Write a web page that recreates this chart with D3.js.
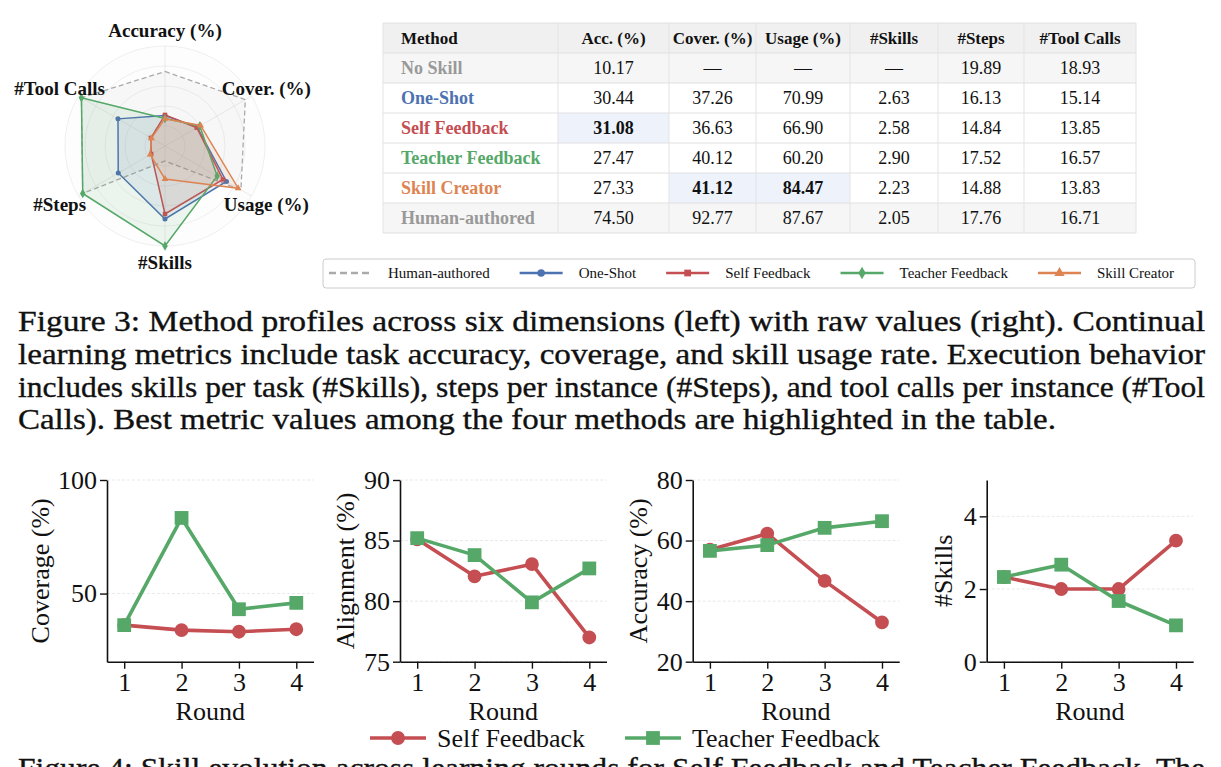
<!DOCTYPE html>
<html><head><meta charset="utf-8">
<script src="https://cdn.jsdelivr.net/npm/d3@7"></script>
<style>
html,body{margin:0;padding:0;background:#fff;overflow:hidden}
svg{display:block}
</style></head>
<body>
<svg id="fig" width="1221" height="767"></svg>
<script>
// ---------------- DATA ----------------
const tableHeaders = ["Method", "Acc. (%)", "Cover. (%)", "Usage (%)", "#Skills", "#Steps", "#Tool Calls"];
const tableMethods = ["No Skill", "One-Shot", "Self Feedback", "Teacher Feedback", "Skill Creator", "Human-authored"];
const accValues    = [10.17, 30.44, 31.08, 27.47, 27.33, 74.50];
const coverValues  = [null, 37.26, 36.63, 40.12, 41.12, 92.77];
const usageValues  = [null, 70.99, 66.90, 60.20, 84.47, 87.67];
const skillsValues = [null, 2.63, 2.58, 2.90, 2.23, 2.05];
const stepsValues  = [19.89, 16.13, 14.84, 17.52, 14.88, 17.76];
const toolValues   = [18.93, 15.14, 13.85, 16.57, 13.83, 16.71];
// best cells: [method, column index]
const bestCells = [["Self Feedback", 1], ["Skill Creator", 2], ["Skill Creator", 3]];

const radarAxes = ["Accuracy (%)", "Cover. (%)", "Usage (%)", "#Skills", "#Steps", "#Tool Calls"];
const radarMethods = ["Human-authored", "One-Shot", "Self Feedback", "Teacher Feedback", "Skill Creator"];

const rounds = [1, 2, 3, 4];
const coverageSelf    = [36.1, 33.9, 33.2, 34.3];
const coverageTeacher = [36.1, 83.3, 43.1, 45.9];
const alignSelf       = [85.1, 82.05, 83.05, 77.0];
const alignTeacher    = [85.2, 83.8, 79.9, 82.7];
const accSelf         = [57.0, 62.3, 46.7, 33.0];
const accTeacher      = [56.6, 58.5, 64.2, 66.4];
const skillsSelf      = [2.33, 2.0, 2.0, 3.33];
const skillsTeacher   = [2.33, 2.67, 1.67, 1.0];

const captionLines = [
  "Figure 3: Method profiles across six dimensions (left) with raw values (right). Continual",
  "learning metrics include task accuracy, coverage, and skill usage rate. Execution behavior",
  "includes skills per task (#Skills), steps per instance (#Steps), and tool calls per instance (#Tool",
  "Calls). Best metric values among the four methods are highlighted in the table."
];
const nextCaption = "Figure 4: Skill evolution across learning rounds for Self Feedback and Teacher Feedback. The";

// ---------------- STYLE ----------------
const colors = {
  "No Skill": "#999999", "One-Shot": "#4c72b0", "Self Feedback": "#c44e52",
  "Teacher Feedback": "#55a868", "Skill Creator": "#dd8452", "Human-authored": "#999999"
};
const symbols = {
  "One-Shot": d3.symbolCircle, "Self Feedback": d3.symbolSquare,
  "Teacher Feedback": d3.symbolDiamond, "Skill Creator": d3.symbolTriangle
};
const SERIF = "'Liberation Serif','Times New Roman',Times,serif";

const svg = d3.select("#fig");

// ---------------- RADAR ----------------
{
  const cx = 165, cy = 146, R = 100;
  const g = svg.append("g").attr("transform", `translate(${cx},${cy})`);
  const columns = [accValues, coverValues, usageValues, skillsValues, stepsValues, toolValues];
  const scales = [
    d3.scaleLinear().domain([0, 100]).range([0, R]),
    d3.scaleLinear().domain([0, 100]).range([0, R]),
    d3.scaleLinear().domain([0, 100]).range([0, R]),
    d3.scaleLinear().domain([1.9, 2.9]).range([0, R]).clamp(true),
    d3.scaleLinear().domain([14.3, 17.52]).range([0, 0.95 * R]).clamp(true),
    d3.scaleLinear().domain([13.3, 16.57]).range([0, 0.965 * R]).clamp(true)
  ];
  const ang = d3.scalePoint().domain(radarAxes).range([0, 2 * Math.PI * 5 / 6]);

  g.append("circle").attr("r", R).attr("fill", "#fdfdfd");
  g.selectAll("circle.ring").data([0.2, 0.4, 0.6, 0.8, 1.0]).join("circle")
    .attr("r", d => d * R).attr("fill", "none").attr("stroke", "#ebebeb").attr("stroke-width", 0.8);
  g.selectAll("line.spoke").data(radarAxes).join("line")
    .attr("x1", 0).attr("y1", 0)
    .attr("x2", d => R * Math.sin(ang(d))).attr("y2", d => -R * Math.cos(ang(d)))
    .attr("stroke", "#e6e6e6").attr("stroke-width", 0.8);

  const radial = d3.lineRadial()
    .angle(d => ang(d.axis)).radius(d => scales[d.i](d.v))
    .curve(d3.curveLinearClosed);

  radarMethods.forEach(m => {
    const row = tableMethods.indexOf(m);
    const pts = radarAxes.map((a, i) => ({axis: a, i, v: columns[i][row]}));
    const human = m === "Human-authored";
    g.append("path").attr("d", radial(pts))
      .attr("fill", human ? "#9a9a9a" : colors[m]).attr("fill-opacity", human ? 0.06 : 0.1)
      .attr("stroke", human ? "#aaaaaa" : colors[m]).attr("stroke-width", human ? 1.3 : 1.5)
      .attr("stroke-dasharray", human ? "5,3" : null);
    if (!human) {
      g.selectAll(null).data(pts).join("path")
        .attr("transform", d => {
          const r = scales[d.i](d.v), a = ang(d.axis);
          return `translate(${r * Math.sin(a)},${-r * Math.cos(a)})`;
        })
        .attr("d", d3.symbol().type(symbols[m]).size(m === "Teacher Feedback" ? 26 : 20))
        .attr("fill", colors[m]);
    }
  });

  g.selectAll("text.lab").data(radarAxes).join("text")
    .attr("x", d => 117 * Math.sin(ang(d)) - (Math.sin(ang(d)) < -0.1 ? 4 : 0))
    .attr("y", d => -116 * Math.cos(ang(d)))
    .attr("dy", "0.35em").attr("text-anchor", "middle")
    .attr("font-family", SERIF).attr("font-weight", "bold").attr("font-size", 19)
    .attr("fill", "#111").text(d => d);
}

// ---------------- TABLE ----------------
{
  const colEdges = [383, 558, 669, 756, 850, 938, 1024, 1136];
  const top = 23, rh = 30;
  const cols = [accValues, coverValues, usageValues, skillsValues, stepsValues, toolValues];
  const g = svg.append("g").attr("font-family", SERIF).attr("font-size", 18);
  g.append("rect").attr("x", colEdges[0]).attr("y", top).attr("width", colEdges[7] - colEdges[0]).attr("height", rh).attr("fill", "#f0f0f0");
  tableMethods.forEach((m, r) => {
    const y0 = top + rh * (r + 1);
    if (m === "No Skill" || m === "Human-authored")
      g.append("rect").attr("x", colEdges[0]).attr("y", y0).attr("width", colEdges[7] - colEdges[0]).attr("height", rh).attr("fill", "#f6f6f6");
  });
  bestCells.forEach(([m, c]) => {
    const r = tableMethods.indexOf(m);
    g.append("rect").attr("x", colEdges[c]).attr("y", top + rh * (r + 1))
      .attr("width", colEdges[c + 1] - colEdges[c]).attr("height", rh).attr("fill", "#edf2fb");
  });
  for (let r = 0; r <= tableMethods.length + 1; r++)
    g.append("line").attr("x1", colEdges[0]).attr("x2", colEdges[7]).attr("y1", top + rh * r).attr("y2", top + rh * r)
      .attr("stroke", "#e0e0e0").attr("stroke-width", 1);
  colEdges.forEach(x => g.append("line").attr("x1", x).attr("x2", x).attr("y1", top).attr("y2", top + rh * 7)
      .attr("stroke", "#e3e3e3").attr("stroke-width", 1));
  tableHeaders.forEach((h, c) => {
    g.append("text").attr("x", c === 0 ? colEdges[0] + 18 : (colEdges[c] + colEdges[c + 1]) / 2)
      .attr("y", top + rh / 2 + 6).attr("text-anchor", c === 0 ? "start" : "middle")
      .attr("font-weight", "bold").attr("font-size", 17).attr("fill", "#111").text(h);
  });
  tableMethods.forEach((m, r) => {
    const yb = top + rh * (r + 1) + rh / 2 + 6;
    g.append("text").attr("x", colEdges[0] + 18).attr("y", yb).attr("font-weight", "bold")
      .attr("fill", colors[m]).text(m);
    cols.forEach((arr, c) => {
      const v = arr[r];
      const best = bestCells.some(([bm, bc]) => bm === m && bc === c + 1);
      g.append("text").attr("x", (colEdges[c + 1] + colEdges[c + 2]) / 2).attr("y", yb)
        .attr("text-anchor", "middle").attr("fill", "#111")
        .attr("font-weight", best ? "bold" : "normal")
        .text(v == null ? "\u2014" : v.toFixed(2));
    });
  });
}

// ---------------- TOP LEGEND ----------------
{
  const g = svg.append("g").attr("font-family", SERIF).attr("font-size", 15);
  g.append("rect").attr("x", 323).attr("y", 259).attr("width", 872).attr("height", 29).attr("rx", 3)
    .attr("fill", "#fff").attr("stroke", "#cccccc");
  let x = 329;
  const yl = 273;
  radarMethods.forEach(m => {
    const human = m === "Human-authored";
    g.append("line").attr("x1", x).attr("x2", x + 43).attr("y1", yl).attr("y2", yl)
      .attr("stroke", human ? "#aaaaaa" : colors[m]).attr("stroke-width", 2.5)
      .attr("stroke-dasharray", human ? "7,4" : null);
    if (!human) g.append("path").attr("transform", `translate(${x + 21.5},${yl})`)
      .attr("d", d3.symbol().type(symbols[m]).size(45)).attr("fill", colors[m]);
    const t = g.append("text").attr("x", x + 59).attr("y", yl + 5).attr("fill", "#111").text(m);
    x = x + 59 + t.node().getComputedTextLength() + 30;
  });
}

// ---------------- CAPTION ----------------
{
  const g = svg.append("g").attr("font-family", SERIF).attr("font-size", 29)
    .attr("fill", "#111").attr("stroke", "#111").attr("stroke-width", 0.35);
  const baselines = [331, 364, 397, 429];
  const widths = [1187, 1187, 1187, 1038];
  captionLines.forEach((s, i) => {
    g.append("text").attr("x", 18).attr("y", baselines[i])
      .attr("textLength", widths[i]).attr("lengthAdjust", "spacingAndGlyphs").text(s);
  });
  g.append("text").attr("x", 18).attr("y", 778).attr("textLength", 1187)
    .attr("lengthAdjust", "spacingAndGlyphs").text(nextCaption);
}

// ---------------- ROUND PANELS ----------------
{
  const yTop = 480, yBot = 661.7, pw = 206.5;
  const panels = [
    {label: "Coverage (%)", domain: [20, 100], ticks: [50, 100], self: coverageSelf, teacher: coverageTeacher, left: 107, labelX: 49},
    {label: "Alignment (%)", domain: [75, 90], ticks: [75, 80, 85, 90], self: alignSelf, teacher: alignTeacher, left: 400, labelX: 354},
    {label: "Accuracy (%)", domain: [20, 80], ticks: [20, 40, 60, 80], self: accSelf, teacher: accTeacher, left: 692.7, labelX: 647},
    {label: "#Skills", domain: [0, 5], ticks: [0, 2, 4], self: skillsSelf, teacher: skillsTeacher, left: 986.7, labelX: 952}
  ];
  panels.forEach(p => {
    const g = svg.append("g").attr("font-family", SERIF);
    const x = d3.scaleLinear().domain([0.7, 4.3]).range([p.left, p.left + pw]);
    const y = d3.scaleLinear().domain(p.domain).range([yBot, yTop]);
    g.selectAll("line.grid").data(p.ticks).join("line")
      .attr("x1", p.left).attr("x2", p.left + pw).attr("y1", d => y(d)).attr("y2", d => y(d))
      .attr("stroke", "#e3e3e3").attr("stroke-width", 0.8).attr("stroke-dasharray", "3,2");
    const xa = g.append("g").attr("transform", `translate(0,${yBot})`)
      .call(d3.axisBottom(x).tickValues(rounds).tickFormat(d3.format("d")).tickSize(7).tickSizeOuter(0).tickPadding(4));
    const ya = g.append("g").attr("transform", `translate(${p.left},0)`)
      .call(d3.axisLeft(y).tickValues(p.ticks).tickFormat(d3.format("d")).tickSize(7).tickSizeOuter(0).tickPadding(3));
    [xa, ya].forEach(a => {
      a.select(".domain").attr("stroke", "#111").attr("stroke-width", 1.6);
      a.selectAll(".tick line").attr("stroke", "#111").attr("stroke-width", 1.4);
      a.selectAll(".tick text").attr("font-family", SERIF).attr("font-size", 26).attr("fill", "#111");
    });
    g.append("text").attr("x", p.left + pw / 2).attr("y", 720).attr("text-anchor", "middle")
      .attr("font-size", 26).attr("fill", "#111").text("Round");
    g.append("text").attr("transform", `translate(${p.labelX},${(yTop + yBot) / 2}) rotate(-90)`)
      .attr("text-anchor", "middle").attr("font-size", 26).attr("fill", "#111").text(p.label);

    const ln = d3.line().x((d, i) => x(rounds[i])).y(d => y(d));
    [["Self Feedback", p.self], ["Teacher Feedback", p.teacher]].forEach(([m, vals]) => {
      g.append("path").attr("d", ln(vals)).attr("fill", "none").attr("stroke", colors[m])
        .attr("stroke-width", 3.6).attr("stroke-linejoin", "round");
      g.selectAll(null).data(vals).join("path")
        .attr("transform", (d, i) => `translate(${x(rounds[i])},${y(d)})`)
        .attr("d", d3.symbol().type(m === "Self Feedback" ? d3.symbolCircle : d3.symbolSquare).size(m === "Self Feedback" ? 150 : 190))
        .attr("fill", colors[m]);
    });
  });

  const lg = svg.append("g").attr("font-family", SERIF).attr("font-size", 26).attr("fill", "#111");
  const items = [["Self Feedback", d3.symbolCircle, 150, 370], ["Teacher Feedback", d3.symbolSquare, 190, 625]];
  items.forEach(([m, sym, sz, x0]) => {
    lg.append("line").attr("x1", x0).attr("x2", x0 + 56).attr("y1", 738).attr("y2", 738)
      .attr("stroke", colors[m]).attr("stroke-width", 3.6);
    lg.append("path").attr("transform", `translate(${x0 + 28},738)`).attr("d", d3.symbol().type(sym).size(sz)).attr("fill", colors[m]);
    lg.append("text").attr("x", x0 + 67).attr("y", 747).text(m);
  });
}
</script>
</body></html>
